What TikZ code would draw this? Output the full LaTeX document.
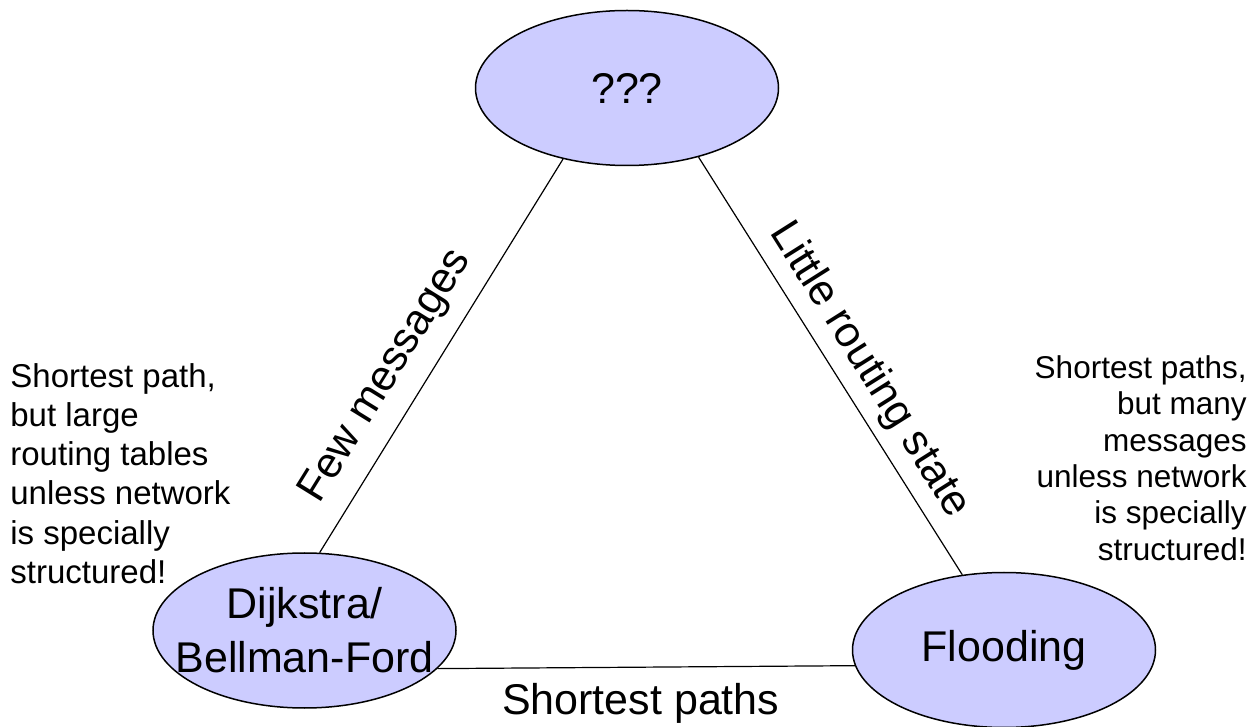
\documentclass[tikz,border=0pt]{standalone}
\usepackage{fontspec}
\setmainfont{Liberation Sans}
\usetikzlibrary{shapes.geometric}
\definecolor{bubble}{HTML}{CCCCFF}
\tikzset{
  bubble/.style={ellipse, draw=black, line width=0.75pt, fill=bubble,
    inner sep=0pt, minimum width=151.5pt, minimum height=77.5pt},
  biglabel/.style={font=\fontsize{21.5}{27}\selectfont, inner sep=0pt},
  edge/.style={draw=black, line width=0.6pt},
}
\begin{document}
\begin{tikzpicture}[x=0.5pt, y=-0.5pt]
  \useasboundingbox (0,0) rectangle (1255,727);

  % the three approaches
  \node[bubble, label={[biglabel]center:???}] (top) at (627,88) {};
  \node[bubble, label={[biglabel, align=center]center:Dijkstra/\\Bellman-Ford}] (dij) at (304.5,630.5) {};
  \node[bubble, label={[biglabel]center:Flooding}] (flood) at (1004,650) {};

  % trade-off edges
  \draw[edge] (top.228.4) -- node[biglabel, sloped, pos=0.6, above=8pt] {Few messages} (dij.79.5);
  \draw[edge] (top.316.2) -- node[biglabel, sloped, pos=0.55, above=5pt] {Little routing state} (flood.119.8);
  \draw[edge] (dij.344.7) -- node[biglabel, pos=0.487, below=8pt] {Shortest paths} (flood.186.6);

  % side remarks
  \node[anchor=north west, align=left, inner sep=0pt,
        font=\fontsize{16.5}{19.6}\selectfont] (remdij) at (10,363)
    {Shortest path,\\but large\\routing tables\\unless network\\is specially\\structured!};
  \node[anchor=north east, align=right, inner sep=0pt,
        font=\fontsize{15.75}{18.2}\selectfont] (remflood) at (1247,355)
    {Shortest paths,\\but many\\messages\\unless network\\is specially\\structured!};
\end{tikzpicture}
\end{document}
